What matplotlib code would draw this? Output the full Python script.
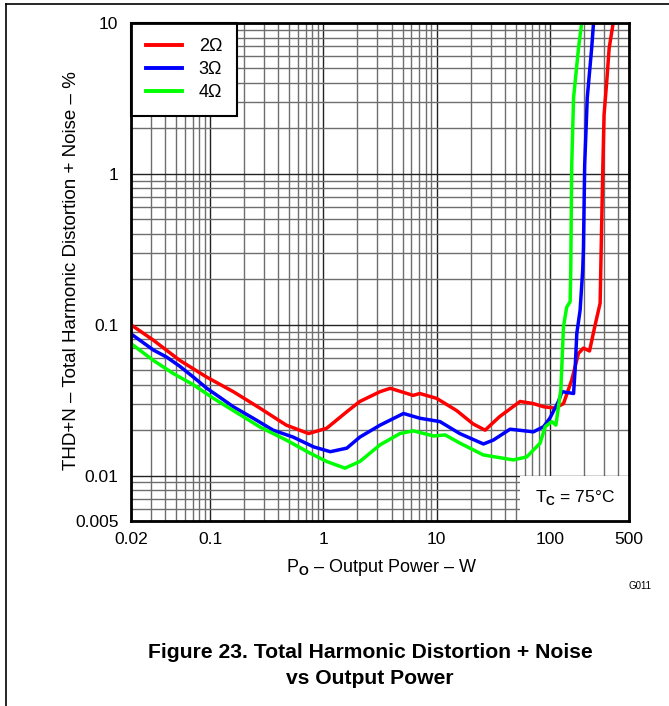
import matplotlib
matplotlib.use("Agg")
import matplotlib.pyplot as plt
from matplotlib.patches import Rectangle
from matplotlib.lines import Line2D

plt.rcParams['font.family'] = ['Liberation Sans', 'DejaVu Sans']
plt.rcParams['mathtext.fontset'] = 'custom'
plt.rcParams['mathtext.rm'] = 'Liberation Sans'
plt.rcParams['mathtext.bf'] = 'Liberation Sans:bold'

# ---- data ----
x_2ohm = [0.02, 0.0315, 0.054, 0.093, 0.16, 0.275, 0.47, 0.74, 1.07, 1.61, 2.1, 3.17, 3.9,
          6.2, 7.1, 10, 15, 21, 26.8, 36, 54.6, 71.6, 88, 111, 132, 156, 179, 198, 224,
          251, 278, 284, 294, 301, 318, 334, 360, 380]
y_2ohm = [0.1, 0.079, 0.058, 0.045, 0.036, 0.028, 0.0216, 0.019, 0.0206, 0.0265, 0.031, 0.036, 0.0379,
          0.034, 0.035, 0.0325, 0.027, 0.022, 0.020, 0.0246, 0.031, 0.030, 0.0286, 0.028, 0.030, 0.043,
          0.0646, 0.070, 0.067, 0.0995, 0.139, 0.32, 1.14, 2.45, 4.1, 6.8, 9.7, 12]

x_3ohm = [0.02, 0.0315, 0.0413, 0.054, 0.071, 0.093, 0.122, 0.16, 0.24, 0.36, 0.54, 0.82, 1.15,
          1.61, 2.1, 3.17, 5.1, 7.1, 10.7, 16, 25.9, 31.7, 44.5, 71.6, 88, 100, 119, 128, 162,
          167, 173, 185, 195, 198, 203, 214, 234, 243, 255]
y_3ohm = [0.087, 0.068, 0.061, 0.053, 0.045, 0.038, 0.033, 0.0286, 0.024, 0.020, 0.018, 0.0155, 0.0144,
          0.0152, 0.018, 0.0216, 0.0258, 0.024, 0.0228, 0.019, 0.0162, 0.0172, 0.0203, 0.0195, 0.0211,
          0.024, 0.031, 0.036, 0.035, 0.050, 0.0877, 0.125, 0.23, 0.32, 1.14, 3.2, 6.8, 10, 12]

x_4ohm = [0.02, 0.0315, 0.047, 0.071, 0.107, 0.16, 0.275, 0.47, 0.76, 1.07, 1.55, 2.1, 3.17,
          4.75, 6.2, 9.4, 11.9, 16.1, 25.9, 47.6, 62.5, 82, 91, 104, 113, 125, 132, 141, 151,
          153, 156, 162, 179, 191, 200]
y_4ohm = [0.075, 0.058, 0.0476, 0.040, 0.0325, 0.027, 0.021, 0.0172, 0.0141, 0.0124, 0.0112, 0.0124, 0.016,
          0.019, 0.0198, 0.0183, 0.0186, 0.0164, 0.0137, 0.0127, 0.0133, 0.0164, 0.0211, 0.0228, 0.0216,
          0.037, 0.0975, 0.131, 0.142, 0.23, 1.14, 3.2, 6.8, 10, 12]

series_labels = ['2Ω', '3Ω', '4Ω']
series_colors = ['#ff0000', '#0000ff', '#00ff00']

x_ticks = [0.02, 0.1, 1, 10, 100, 500]
x_ticklabels = ['0.02', '0.1', '1', '10', '100', '500']
y_ticks = [0.005, 0.01, 0.1, 1, 10]
y_ticklabels = ['0.005', '0.01', '0.1', '1', '10']

# ---- figure ----
W, H = 669, 706
fig = plt.figure(figsize=(W / 100, H / 100), dpi=100)
ax = fig.add_axes([131 / W, 1 - 521 / H, 498 / W, 498 / H])
ax.set_xscale('log')
ax.set_yscale('log')
ax.set_xlim(0.02, 500)
ax.set_ylim(0.005, 10)

# grid
ax.grid(True, which='major', color='#222222', linewidth=1.0, zorder=0)
ax.grid(True, which='minor', color='#6e6e6e', linewidth=1.0, zorder=0)
ax.set_axisbelow(True)

xs = [x_2ohm, x_3ohm, x_4ohm]
ys = [y_2ohm, y_3ohm, y_4ohm]
for xv, yv, c in zip(xs, ys, series_colors):
    ax.plot(xv, yv, color=c, linewidth=2.5, zorder=3, solid_joinstyle='round')

ax.set_xticks(x_ticks)
ax.set_xticklabels(x_ticklabels)
ax.set_yticks(y_ticks)
ax.set_yticklabels(y_ticklabels)
ax.tick_params(which='both', length=0, labelsize=12.5)
ax.tick_params(axis='x', pad=8)
ax.tick_params(axis='y', pad=9)
for s in ax.spines.values():
    s.set_linewidth(2.0)
    s.set_zorder(6)

# legend box (white, covering grid)
leg_handles = [Line2D([0], [0], color=c, linewidth=2.8) for c in series_colors]
leg = ax.legend(leg_handles, series_labels, loc='upper left', bbox_to_anchor=(0, 1),
                fontsize=13, frameon=True, fancybox=False, edgecolor='black',
                framealpha=1.0, borderpad=0.85, handlelength=2.0, handletextpad=0.9,
                labelspacing=0.32, borderaxespad=0)
leg.get_frame().set_linewidth(1.5)
leg.set_zorder(5)

# T_C box
ax.add_patch(Rectangle((389 / 498, 0), 1 - 389 / 498, (521 - 476) / 498,
                       transform=ax.transAxes, facecolor='white', edgecolor='none', zorder=4))
ax.text(0.972, 0.047, r'T$_\mathbf{C}$ = 75°C', transform=ax.transAxes, ha='right',
        va='center', fontsize=12.5, zorder=5)

# labels
fig.text(72 / W, 1 - 271 / H, 'THD+N – Total Harmonic Distortion + Noise – %', rotation=90,
         ha='center', va='center', fontsize=13.5)
fig.text(382 / W, 1 - 567 / H, r'P$_\mathbf{O}$ – Output Power – W', ha='center', va='center',
         fontsize=13)
fig.text(640 / W, 1 - 586 / H, 'G011', ha='center', va='center', fontsize=7)

fig.text(370 / W, 1 - 652 / H, 'Figure 23. Total Harmonic Distortion + Noise', ha='center',
         va='center', fontsize=15.2, fontweight='bold')
fig.text(370 / W, 1 - 679 / H, 'vs Output Power', ha='center', va='center', fontsize=15.2,
         fontweight='bold')

# page frame lines
fig.add_artist(Line2D([6 / W, 6 / W], [0, 1 - 4 / H], transform=fig.transFigure,
                      color='black', linewidth=1.2))
fig.add_artist(Line2D([6 / W, 1], [1 - 4 / H, 1 - 4 / H], transform=fig.transFigure,
                      color='black', linewidth=1.2))

fig.savefig('out.png', dpi=100)
